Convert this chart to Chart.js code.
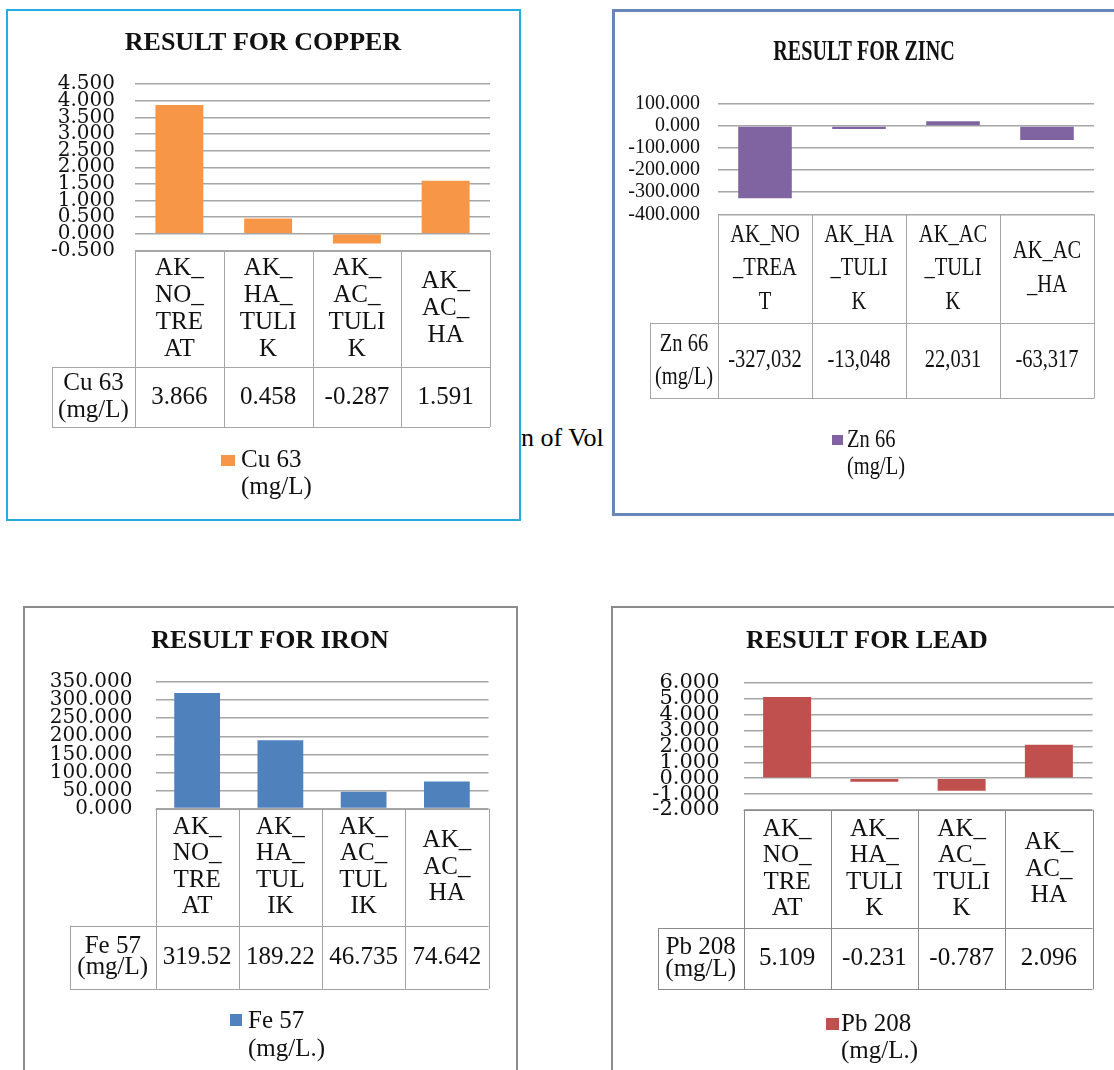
<!DOCTYPE html>
<html>
<head>
<meta charset="utf-8">
<script src="https://cdn.jsdelivr.net/npm/chart.js@4.4.1/dist/chart.umd.min.js"></script>
<style>
html,body{margin:0;padding:0;width:1114px;height:1070px;overflow:hidden;background:#fff;}
.panel{position:absolute;box-sizing:border-box;background:#fff;overflow:hidden;}
.panel canvas{position:absolute;}
#stray{position:absolute;left:521px;top:425px;font-family:"Liberation Serif";font-size:26px;line-height:26px;color:#000;white-space:nowrap;}
</style>
</head>
<body>
<div id="stray">n of Vol</div>
<script>
// data
const categories = ['AK_NO_TREAT', 'AK_HA_TULIK', 'AK_AC_TULIK', 'AK_AC_HA'];

// how each table header wraps the category names
const copperHeads = [['AK_','NO_','TRE','AT'], ['AK_','HA_','TULI','K'], ['AK_','AC_','TULI','K'], ['AK_','AC_','HA']];
const zincHeads   = [['AK_NO','_TREA','T'], ['AK_HA','_TULI','K'], ['AK_AC','_TULI','K'], ['AK_AC','_HA']];
const ironHeads   = [['AK_','NO_','TRE','AT'], ['AK_','HA_','TUL','IK'], ['AK_','AC_','TUL','IK'], ['AK_','AC_','HA']];
const leadHeads   = [['AK_','NO_','TRE','AT'], ['AK_','HA_','TULI','K'], ['AK_','AC_','TULI','K'], ['AK_','AC_','HA']];

const copperValues = [3.866, 0.458, -0.287, 1.591];
const zincValues   = [-327.032, -13.048, 22.031, -63.317];
const ironValues   = [319.52, 189.22, 46.735, 74.642];
const leadValues   = [5.109, -0.231, -0.787, 2.096];

// series name as printed in the table cell / legend
const copperSeries = ['Cu 63', '(mg/L)'];
const zincSeries   = ['Zn 66', '(mg/L)'];
const ironSeries   = ['Fe 57', '(mg/L)'];
const leadSeries   = ['Pb 208', '(mg/L)'];
const ironLegend   = ['Fe 57', '(mg/L.)'];
const leadLegend   = ['Pb 208', '(mg/L.)'];

// y axis: min, max, step
const copperTicks = [-0.5, 4.5, 0.5];
const zincTicks   = [-400, 100, 100];
const ironTicks   = [0, 350, 50];
const leadTicks   = [-2, 6, 1];

const titles = ['RESULT FOR COPPER', 'RESULT FOR ZINC', 'RESULT FOR IRON', 'RESULT FOR LEAD'];

// layout, page coordinates
const panels = [
  { id:'cu', title:titles[0], heads:copperHeads, values:copperValues, series:copperSeries, legend:copperSeries, ticks:copperTicks,
    color:'#f79646', fmt:v => v.toFixed(3),
    box:[6,9,515,512], border:'2px solid #22aee2', bw:2,
    area:{left:135, right:490, top:84, bottom:250.5}, tickFont:{family:'DejaVu Serif', size:20}, tickPad:20, barPct:0.54,
    titleAt:[263,43], titleFont:'bold 26px "Liberation Serif"', titleSx:1,
    font:25, sx:1, lh:27, catBottom:367, valBottom:427, seriesLeft:52, seriesLH:27, lineColor:'#a6a6a6',
    legendBox:[221,455,14,11], legendX:241, legendY:[460,487] },
  { id:'zn', title:titles[1], heads:zincHeads, values:zincValues, series:zincSeries, legend:zincSeries, ticks:zincTicks,
    color:'#8064a2', fmt:v => v.toFixed(3).replace('.', ','),
    box:[612,9,520,507], border:'3px solid #6a86b8', bw:3,
    area:{left:718, right:1094, top:104, bottom:214.3}, tickFont:{family:'Liberation Serif', size:20}, tickPad:18, barPct:0.57,
    titleAt:[864,52], titleFont:'bold 30px "Liberation Serif"', titleSx:0.67,
    font:25, sx:0.82, lh:33.5, catBottom:322.7, valBottom:398.3, seriesLeft:650, seriesLH:33, lineColor:'#a6a6a6',
    legendBox:[832,435,11,10], legendX:847, legendY:[440,467] },
  { id:'fe', title:titles[2], heads:ironHeads, values:ironValues, series:ironSeries, legend:ironLegend, ticks:ironTicks,
    color:'#4f81bd', fmt:v => v.toPrecision(5),
    box:[23,606,495,480], border:'2px solid #8c8c8c', bw:2,
    area:{left:155.5, right:488.5, top:682, bottom:808.6}, tickFont:{family:'DejaVu Serif', size:20}, tickPad:23, barPct:0.55,
    titleAt:[270,641], titleFont:'bold 26px "Liberation Serif"', titleSx:1,
    font:25, sx:1, lh:26.5, catBottom:925.6, valBottom:988.8, seriesLeft:70, seriesLH:21, lineColor:'#a0a0a0',
    legendBox:[230,1014,12,12], legendX:248, legendY:[1021,1049] },
  { id:'pb', title:titles[3], heads:leadHeads, values:leadValues, series:leadSeries, legend:leadLegend, ticks:leadTicks,
    color:'#c0504d', fmt:v => v.toFixed(3),
    box:[611,606,520,480], border:'2px solid #8c8c8c', bw:2,
    area:{left:743.5, right:1092.5, top:682.8, bottom:810}, tickFont:{family:'DejaVu Serif', size:21}, tickPad:24, barPct:0.55,
    titleAt:[867,641], titleFont:'bold 26px "Liberation Serif"', titleSx:1,
    font:25, sx:1, lh:26.5, catBottom:928, valBottom:989.3, seriesLeft:658, seriesLH:22, lineColor:'#8a8a8a',
    legendBox:[826,1018,13,12], legendX:841, legendY:[1024,1051] }
];

function drawText(ctx, str, x, y, font, align, sx){
  ctx.save();
  ctx.font = font;
  ctx.textAlign = align;
  ctx.textBaseline = 'middle';
  ctx.fillStyle = '#111';
  ctx.translate(x, y);
  ctx.scale(sx, 1);
  ctx.fillText(str, 0, 0);
  ctx.restore();
}

// draws title, the data table under the bars and the legend
function tablePlugin(p){
  const L = p.box[0], T = p.box[1];
  return {
    id: 'table_' + p.id,
    afterDraw(chart){
      const ctx = chart.ctx, ca = chart.chartArea, xs = chart.scales.x;
      const labels = chart.data.labels, ds = chart.data.datasets[0];
      const n = labels.length, colW = ca.width / n;
      const catB = p.catBottom - T, valB = p.valBottom - T, serL = p.seriesLeft - L;
      const r = v => Math.round(v) + 0.5;

      drawText(ctx, p.title, p.titleAt[0] - L, p.titleAt[1] - T, p.titleFont, 'center', p.titleSx);

      ctx.save();
      ctx.strokeStyle = p.lineColor; ctx.lineWidth = 1;
      ctx.beginPath();
      ctx.moveTo(ca.left, r(ca.bottom)); ctx.lineTo(ca.right, r(ca.bottom));
      ctx.moveTo(serL, r(catB)); ctx.lineTo(ca.right, r(catB));
      ctx.moveTo(serL, r(valB)); ctx.lineTo(ca.right, r(valB));
      for(let i=0;i<=n;i++){ const x = r(ca.left + i*colW); ctx.moveTo(x, ca.bottom); ctx.lineTo(x, valB); }
      ctx.moveTo(r(serL), catB); ctx.lineTo(r(serL), valB);
      ctx.stroke();
      ctx.restore();

      const f = p.font + 'px "Liberation Serif"';
      labels.forEach((lines, i) => {
        const cx = xs.getPixelForValue(i);
        const cy = (ca.bottom + catB) / 2;
        lines.forEach((t, j) => drawText(ctx, t, cx, cy + (j - (lines.length-1)/2) * p.lh, f, 'center', p.sx));
        drawText(ctx, p.fmt(ds.data[i]), cx, (catB + valB) / 2, f, 'center', p.sx);
      });

      const sx0 = (serL + ca.left) / 2, sy0 = (catB + valB) / 2;
      p.series.forEach((t, j) => drawText(ctx, t, sx0, sy0 + (j - (p.series.length-1)/2) * p.seriesLH, f, 'center', p.sx));

      ctx.save();
      ctx.fillStyle = ds.backgroundColor;
      ctx.fillRect(p.legendBox[0] - L, p.legendBox[1] - T, p.legendBox[2], p.legendBox[3]);
      ctx.restore();
      p.legend.forEach((t, j) => drawText(ctx, t, p.legendX - L, p.legendY[j] - T, f, 'left', p.sx));
    }
  };
}

panels.forEach(p => {
  const [L, T, W, H] = p.box;
  const div = document.createElement('div');
  div.className = 'panel';
  div.style.cssText = `left:${L}px;top:${T}px;width:${W}px;height:${H}px;border:${p.border};`;
  const cv = document.createElement('canvas');
  cv.width = W; cv.height = H;
  cv.style.cssText = `left:${-p.bw}px;top:${-p.bw}px;width:${W}px;height:${H}px;`;
  div.appendChild(cv);
  document.body.appendChild(div);

  const a = p.area;
  new Chart(cv.getContext('2d'), {
    type: 'bar',
    data: {
      labels: p.heads,
      datasets: [{ label: p.series.join(' '), data: p.values, backgroundColor: p.color, borderWidth: 0,
                   barPercentage: p.barPct, categoryPercentage: 1 }]
    },
    options: {
      responsive: false, animation: false, events: [],
      layout: { padding: { top: a.top - T, bottom: T + H - a.bottom, left: 0, right: L + W - a.right } },
      plugins: { legend: { display: false }, tooltip: { enabled: false }, title: { display: false } },
      scales: {
        x: { display: false },
        y: {
          min: p.ticks[0], max: p.ticks[1],
          ticks: { stepSize: p.ticks[2], autoSkip: false, padding: p.tickPad, color: '#111', font: p.tickFont,
                   callback: v => v.toFixed(3) },
          grid: { color: '#a6a6a6', lineWidth: 1.5, drawTicks: false },
          border: { display: false },
          afterFit: s => { s.width = a.left - L; }
        }
      }
    },
    plugins: [tablePlugin(p)]
  });
});
</script>
</body>
</html>
